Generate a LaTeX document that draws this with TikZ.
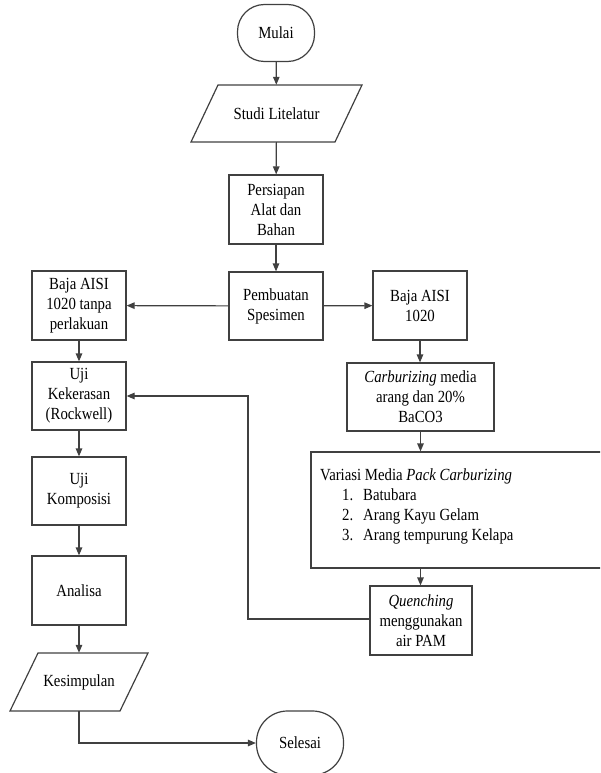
\documentclass[tikz,border=0pt]{standalone}
\usepackage{fontspec}
\setmainfont{Liberation Serif}[FakeStretch=0.87]
\usetikzlibrary{arrows.meta}
\begin{document}
\begin{tikzpicture}[x=1pt,y=-1pt,
  every node/.style={font=\fontsize{17}{20}\selectfont, text=black},
  line/.style={draw=black!75, line width=1.2pt},
  arr/.style={line, -{Triangle[length=8pt,width=6.5pt]}},
  box/.style={line, rectangle, align=center, inner sep=0pt},
  term/.style={line, rectangle, rounded corners=27pt, inner sep=0pt},
  ghost/.style={rectangle, inner sep=0pt, align=center}]
\useasboundingbox (0,0) rectangle (600,773);
\clip (0,0) rectangle (600,773);
% terminals
\node[term, minimum width=77pt, minimum height=57pt] (mulai) at (276,33) {Mulai};
\node[term, rounded corners=31pt, minimum width=87pt, minimum height=64pt] (selesai) at (300,743) {Selesai};
% input/output
\node[ghost, minimum width=144pt, minimum height=57pt] (studi) at (276.5,113.5) {Studi Litelatur};
\draw[line] (218,85) -- (362,85) -- (335,142) -- (191,142) -- cycle;
\node[ghost, minimum width=110pt, minimum height=58pt] (kesimpulan) at (79,682) {Kesimpulan};
\draw[line] (38,653) -- (148,653) -- (120,711) -- (10,711) -- cycle;
% process boxes
\node[box, minimum width=94pt, minimum height=69pt] (persiapan) at (276,209.5) {Persiapan\\Alat dan\\Bahan};
\node[box, minimum width=94pt, minimum height=68pt] (pembuatan) at (276,306) {Pembuatan\\Spesimen};
\node[box, minimum width=94pt, minimum height=69pt] (bajaL) at (79,305.5) {Baja AISI\\1020 tanpa\\perlakuan};
\node[box, minimum width=94pt, minimum height=69pt] (bajaR) at (420,305.5) {Baja AISI\\1020};
\node[box, minimum width=94pt, minimum height=68pt] (uji1) at (79,396) {Uji\\Kekerasan\\(Rockwell)};
\node[box, minimum width=147pt, minimum height=68pt] (carb) at (420.5,397) {\textit{Carburizing} media\\arang dan 20\%\\BaCO3};
\node[box, minimum width=94pt, minimum height=68pt] (uji2) at (79,491) {Uji\\Komposisi};
\node[box, minimum width=299pt, minimum height=116pt] (variasi) at (460.5,510) {};
\node[ghost, align=left, anchor=west] (variasitext) at (320,506) {Variasi Media \textit{Pack Carburizing}\\
\hspace*{22pt}\makebox[21pt][l]{1.}Batubara\\
\hspace*{22pt}\makebox[21pt][l]{2.}Arang Kayu Gelam\\
\hspace*{22pt}\makebox[21pt][l]{3.}Arang tempurung Kelapa};
\node[box, minimum width=94pt, minimum height=69pt] (analisa) at (79,590.5) {Analisa};
\node[box, minimum width=102pt, minimum height=69pt] (quench) at (421,620.5) {\textit{Quenching}\\menggunakan\\air PAM};
% connectors
\draw[arr] (mulai) -- (studi);
\draw[arr] (studi) -- (persiapan);
\draw[arr] (persiapan) -- (pembuatan);
\draw[arr] (pembuatan) -- (bajaL);
\draw[arr] (pembuatan) -- (bajaR);
\draw[arr] (bajaL) -- (uji1);
\draw[arr] (uji1) -- (uji2);
\draw[arr] (uji2) -- (analisa);
\draw[arr] (analisa) -- (kesimpulan);
\draw[arr] (bajaR.south) -- (bajaR.south |- carb.north);
\draw[arr] (carb.south) -- (carb.south |- variasi.north);
\draw[arr] (carb.south |- variasi.south) -- (quench.north -| carb.south);
\coordinate (bend) at (248,619);
\draw[arr] (quench.west |- bend) -- (bend) -- (bend |- uji1.east) -- (uji1.east);
\draw[arr] (kesimpulan.south) |- (selesai.west);
\end{tikzpicture}
\end{document}
